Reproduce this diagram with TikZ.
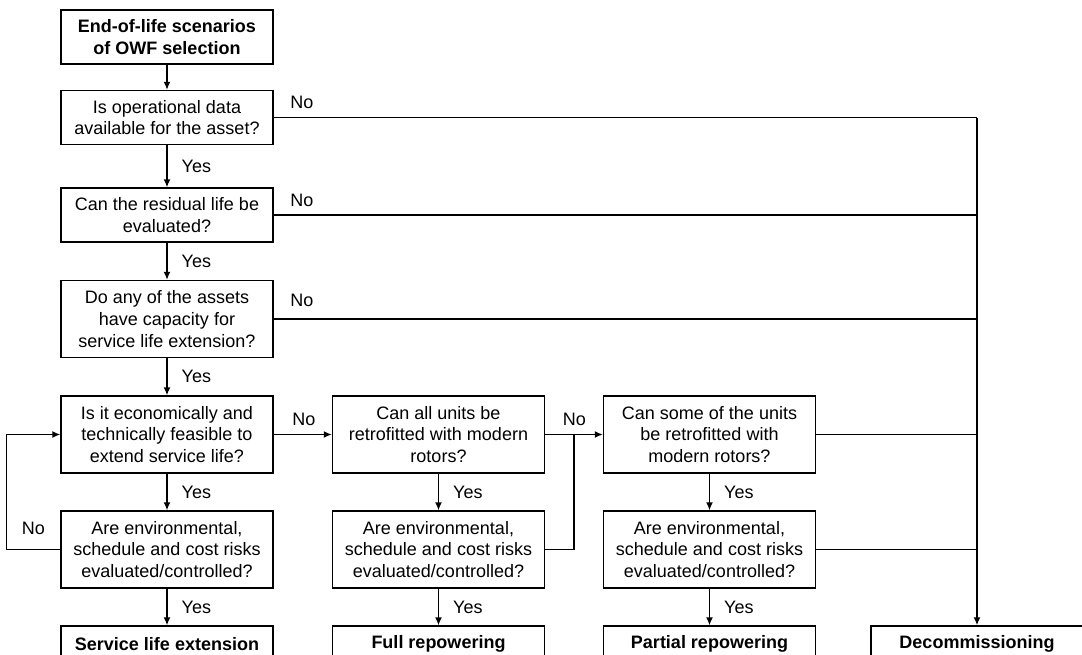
\documentclass[tikz,border=0pt]{standalone}
\usepackage{fontspec}
\setmainfont{Liberation Sans}
\usetikzlibrary{graphs}
\usetikzlibrary {arrows.meta}
\usetikzlibrary{calc}

\tikzset{
    box/.style={draw, line width=1.4pt, minimum width=212pt, minimum height=54pt,
        inner sep=0pt, align=center, font=\fontsize{18}{21.6}\selectfont},
    tall/.style={minimum height=77pt},
    title/.style={font=\fontsize{18}{21.6}\selectfont\bfseries},
    outcome/.style={minimum height=36pt, font=\fontsize{18}{21.6}\selectfont\bfseries},
    yeslbl/.style={anchor=west, inner sep=0pt, xshift=14pt,
        font=\fontsize{18}{21.6}\selectfont},
    nolbl/.style={anchor=base west, inner sep=0pt, xshift=16pt, yshift=9pt,
        font=\fontsize{18}{21.6}\selectfont}
}

\begin{document}
\begin{tikzpicture}[x=1pt, y=-1pt, line width=1.4pt, >={Latex[length=8pt,width=7pt]}]
        \useasboundingbox (0,0) rectangle (1082,654);
        \clip (0,0) rectangle (1082,654);

        % first column
        \node[box, title] (start) at (167,37) {End-of-life scenarios\\of OWF selection};
        \node[box] (data) at (167,117.5) {Is operational data\\available for the asset?};
        \node[box] (residual) at (167,215) {Can the residual life be\\evaluated?};
        \node[box, tall] (capacity) at (167,319) {Do any of the assets\\have capacity for\\service life extension?};
        \node[box, tall] (feasible) at (167,434.5) {Is it economically and\\technically feasible to\\extend service life?};
        \node[box, tall] (risksext) at (167,549.5) {Are environmental,\\schedule and cost risks\\evaluated/controlled?};
        \node[box, outcome] (extension) at (167,644) {Service life extension};

        % second column
        \node[box, tall] (allunits) at (438.5,434.5) {Can all units be\\retrofitted with modern\\rotors?};
        \node[box, tall] (risksfull) at (438.5,549.5) {Are environmental,\\schedule and cost risks\\evaluated/controlled?};
        \node[box, outcome] (full) at (438.5,644) {Full repowering};

        % third column
        \node[box, tall] (someunits) at (709.5,434.5) {Can some of the units\\be retrofitted with\\modern rotors?};
        \node[box, tall] (riskspart) at (709.5,549.5) {Are environmental,\\schedule and cost risks\\evaluated/controlled?};
        \node[box, outcome] (partial) at (709.5,644) {Partial repowering};

        \node[box, outcome] (decom) at (977,644) {Decommissioning};

        \graph {(start) -> (data) ->[edge node={node[yeslbl]{Yes}}] (residual)
            ->[edge node={node[yeslbl]{Yes}}] (capacity)
            ->[edge node={node[yeslbl]{Yes}}] (feasible)
            ->[edge node={node[yeslbl]{Yes}}] (risksext)
            ->[edge node={node[yeslbl]{Yes}}] (extension);};
        \graph {(allunits) ->[edge node={node[yeslbl]{Yes}}] (risksfull)
            ->[edge node={node[yeslbl]{Yes}}] (full);};
        \graph {(someunits) ->[edge node={node[yeslbl]{Yes}}] (riskspart)
            ->[edge node={node[yeslbl]{Yes}}] (partial);};

        % the No branches
        \draw (data.east) -- node[pos=0, nolbl] {No} (data.east -| decom.north);
        \draw (residual.east) -- node[pos=0, nolbl] {No} (residual.east -| decom.north);
        \draw (capacity.east) -- node[pos=0, nolbl, yshift=3.5pt] {No} (capacity.east -| decom.north);
        \draw (someunits.east) -- (someunits.east -| decom.north);
        \draw (riskspart.east) -- (riskspart.east -| decom.north);
        \draw[->, line width=2.2pt] (data.east -| decom.north) -- (decom.north);

        \draw[->] (feasible.east) -- node[pos=0, nolbl, xshift=2pt] {No} (allunits.west);
        \coordinate (join) at ($(allunits.east)!0.5!(someunits.west)$);
        \draw[->] (allunits.east) -- node[pos=0, nolbl, xshift=1pt] {No} (someunits.west);
        \draw (risksfull.east) -| (join);

        \draw[->] (risksext.west) -- node[midway, anchor=base, inner sep=0pt, yshift=15pt,
            font=\fontsize{18}{21.6}\selectfont] {No} ++(-54,0) |- (feasible.west);
    \end{tikzpicture}
\end{document}
